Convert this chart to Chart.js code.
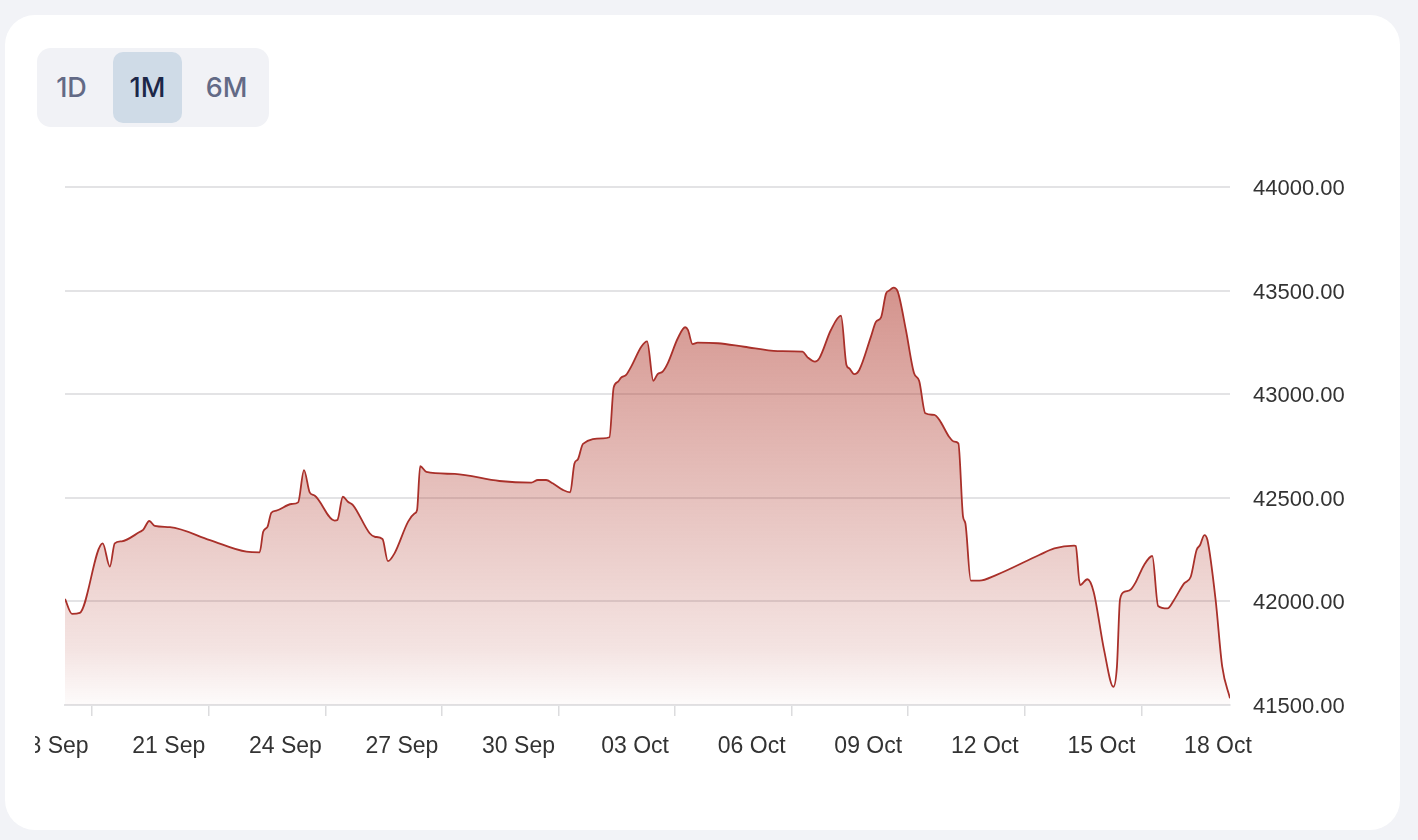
<!DOCTYPE html>
<html>
<head>
<meta charset="utf-8">
<script src="https://cdn.jsdelivr.net/npm/chart.js@4.4.1/dist/chart.umd.min.js"></script>
<style>
  body { margin: 0; width: 1418px; height: 840px; background: #f2f3f7; position: relative; overflow: hidden; }
  .card { position: absolute; left: 5px; top: 15px; width: 1395px; height: 815px; background: #fff; border-radius: 30px; }
  .range { position: absolute; left: 37px; top: 48px; width: 232px; height: 79px; background: #f1f2f6; border-radius: 14px; }
  .range div { position: absolute; top: 4px; height: 71px; width: 69px; line-height: 71px; text-align: center;
    font-family: Inter, "Noto Sans", sans-serif; font-size: 27px; font-weight: 500; color: #636a86; border-radius: 10px; }
  .range .on { background: #cfdbe7; color: #1c2647; }
  .wrap { position: absolute; left: 35px; top: 140px; width: 1345px; height: 660px; }
</style>
</head>
<body>
<div class="card"></div>
<div class="range">
  <div style="left:0px">1D</div>
  <div class="on" style="left:76px">1M</div>
  <div style="left:155px">6M</div>
</div>
<div class="wrap"><canvas id="priceChart" width="1345" height="660"></canvas></div>
<script>
// days counted from 18 Sep 00:00
const days = [
  0.30, 0.48, 0.68, 1.27, 1.455, 1.58, 1.76, 2.23, 2.31, 2.47, 2.61, 3.0, 4.03, 4.97, 5.31,
  5.40, 5.51, 5.61, 5.74, 6.13, 6.30, 6.45, 6.60, 6.73, 7.24, 7.31, 7.45, 7.58, 7.71,
  8.14, 8.27, 8.47, 8.61, 8.78, 9.13, 9.30, 9.36, 9.44, 9.60, 10.33, 11.48, 12.30, 12.47,
  12.68, 12.85, 13.11, 13.30, 13.41, 13.50, 13.63, 14.14, 14.31, 14.42, 14.53, 14.61,
  14.74, 14.87, 15.13, 15.28, 15.44, 15.55, 15.68, 15.81, 16.07, 16.26, 16.33, 16.45,
  16.58, 17.10, 17.78, 18.64, 19.28, 19.41, 19.60, 19.71, 20.01, 20.27, 20.41, 20.48,
  20.61, 20.74, 21.04, 21.17, 21.30, 21.43, 21.51, 21.62, 21.73, 21.94, 22.15, 22.28,
  22.44, 22.67, 22.80, 23.05, 23.18, 23.29, 23.41, 23.47, 23.61, 23.83, 24.26, 25.37,
  25.76, 26.27, 26.31, 26.42, 26.61, 26.77, 27.04, 27.28, 27.37, 27.45, 27.57, 27.73,
  27.86, 28.07, 28.28, 28.43, 28.67, 28.84, 29.10, 29.27, 29.42, 29.51, 29.62, 29.70,
  29.91, 30.08, 30.28
];
const prices = [
  42012, 41940, 41945, 42280, 42168, 42280, 42290, 42336, 42345, 42388, 42364, 42358, 42296, 42240, 42237,
  42336, 42360, 42428, 42438, 42470, 42478, 42634, 42525, 42510, 42390, 42393, 42505, 42481, 42465,
  42329, 42312, 42301, 42194, 42232, 42385, 42425, 42441, 42653, 42625, 42615, 42581, 42573, 42586,
  42586, 42570, 42538, 42526, 42666, 42686, 42760, 42787, 42792, 43033, 43060, 43080,
  43093, 43133, 43229, 43255, 43065, 43097, 43109, 43149, 43270, 43323, 43310, 43242,
  43249, 43246, 43229, 43208, 43205, 43178, 43157, 43173, 43310, 43379, 43141, 43125,
  43097, 43117, 43278, 43350, 43371, 43487, 43500, 43514, 43495, 43310, 43101, 43065,
  42908, 42900, 42876, 42795, 42771, 42763, 42409, 42377, 42100, 42100, 42127, 42224,
  42256, 42269, 42267, 42079, 42107, 42047, 41765, 41588, 41684, 42010, 42047, 42058,
  42095, 42176, 42219, 41978, 41966, 42007, 42087, 42119, 42248, 42272, 42320, 42296,
  42007, 41685, 41532
];
const tickDays = [1, 4, 7, 10, 13, 16, 19, 22, 25, 28, 31];
const xTickLabels = ['18 Sep', '21 Sep', '24 Sep', '27 Sep', '30 Sep', '03 Oct', '06 Oct', '09 Oct', '12 Oct', '15 Oct', '18 Oct'];
const yTicks = [41500, 42000, 42500, 43000, 43500, 44000];

const xMin = 0.3, xMax = 30.28;
const ctx = document.getElementById('priceChart');

new Chart(ctx, {
  type: 'line',
  data: {
    datasets: [{
      data: days.map((d, i) => ({ x: d, y: prices[i] })),
      borderColor: '#a9302a',
      borderWidth: 1.8,
      pointRadius: 0,
      cubicInterpolationMode: 'monotone',
      fill: 'start',
      backgroundColor: (c) => {
        const area = c.chart.chartArea;
        if (!area) return 'rgba(176,58,46,0.3)';
        const g = c.chart.ctx.createLinearGradient(0, area.top, 0, area.bottom);
        g.addColorStop(0, 'rgba(176,58,46,0.66)');
        g.addColorStop(0.89, 'rgba(176,58,46,0.14)');
        g.addColorStop(1, 'rgba(176,58,46,0.02)');
        return g;
      }
    }]
  },
  options: {
    responsive: false,
    animation: false,
    devicePixelRatio: 1,
    layout: { padding: { left: 30, top: 47, right: 0, bottom: 35 } },
    plugins: { legend: { display: false }, tooltip: { enabled: false } },
    scales: {
      x: {
        type: 'linear',
        min: xMin,
        max: xMax,
        afterBuildTicks: (scale) => {
          scale.ticks = tickDays.map(v => ({ value: v }));
        },
        afterFit: (scale) => {
          scale.paddingLeft = 0;
          scale.paddingRight = 0;
          scale.height = 60;
        },
        ticks: {
          autoSkip: false,
          maxRotation: 0,
          labelOffset: -40,
          padding: 17,
          color: '#333',
          font: { family: '"Liberation Sans", Arial, sans-serif', size: 23 },
          callback: (v, i) => xTickLabels[i]
        },
        grid: {
          drawOnChartArea: false,
          tickLength: 11,
          lineWidth: 1.5,
          color: (c) => (c.tick && c.tick.value > xMax) ? 'rgba(0,0,0,0)' : '#dcdcde'
        },
        border: { display: true, color: '#e2e2e4', width: 2 }
      },
      y: {
        position: 'right',
        min: 41500,
        max: 44000,
        afterBuildTicks: (scale) => {
          scale.ticks = yTicks.map(v => ({ value: v }));
        },
        afterFit: (scale) => { scale.width = 150; },
        ticks: {
          padding: 23,
          labelOffset: 2,
          color: '#333',
          font: { family: '"Liberation Sans", Arial, sans-serif', size: 22 },
          callback: (v) => v.toFixed(2)
        },
        grid: { color: '#e3e3e5', lineWidth: 2, drawTicks: false },
        border: { display: false }
      }
    }
  }
});
</script>
</body>
</html>
